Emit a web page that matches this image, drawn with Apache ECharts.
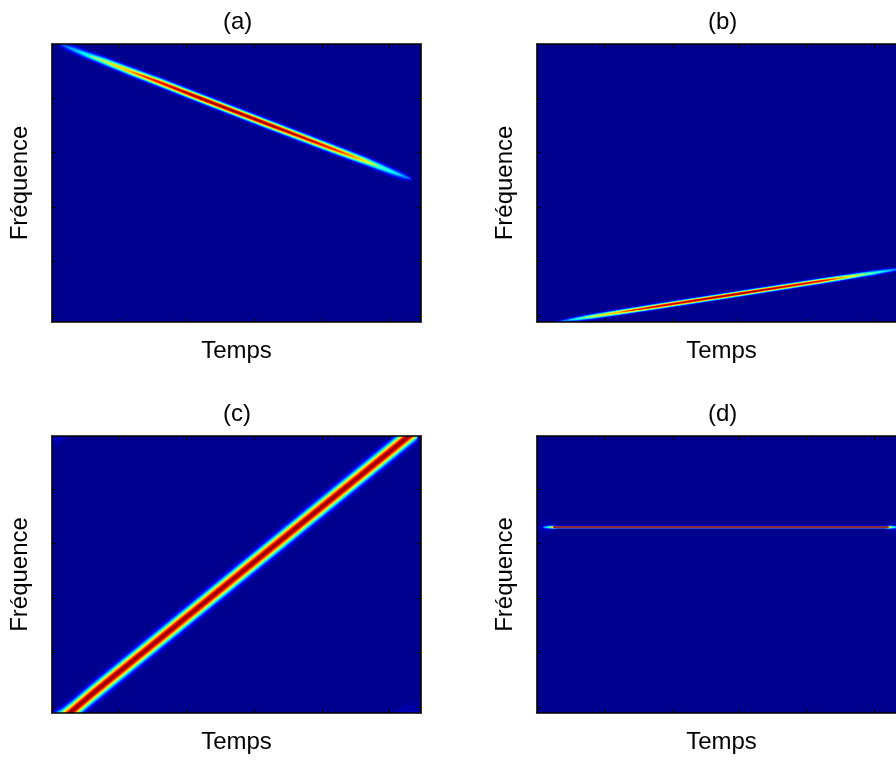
<!DOCTYPE html>
<html><head><meta charset="utf-8">
<style>html,body{margin:0;padding:0;background:#fff}#c{width:896px;height:761px}</style>
<script src="https://cdn.jsdelivr.net/npm/echarts@6/dist/echarts.min.js"></script>
</head><body><div id="c"></div>
<script>
// Ridge read-offs: time, frequency, spread (std. dev. in frequency) and peak level (0..1)
const aTime  = [10,22,36,52,78.5,115,160,219,322,411,440,464,485,503,520,533];
const aFreq  = [511,505,498,490,478,460.5,439.5,411,362,320,306.5,295.5,285,276,268,262];
const aSigma = [3.5,5,5,5,5,5,5,5,5,5,5,5,5,5,4.5,3];
const aPeak  = [0.14,0.26,0.34,0.42,0.58,0.75,0.9,1,1,0.88,0.78,0.65,0.5,0.4,0.3,0.14];

const bTime  = [28,45,60,80,120,180,300,420,445,464,485,501,515,525,532,537];
const bFreq  = [0,3,5.9,9.8,17.5,29,52,75,79.8,83.5,87.5,90.5,93.3,95,96.3,97.2];
const bSigma = [1.5,2.5,3,3,3,3,3,3,3,3,3,3,2.8,2.6,2.4,1.5];
const bPeak  = [0.15,0.3,0.42,0.58,0.75,0.95,1,0.9,0.78,0.65,0.55,0.46,0.38,0.33,0.27,0.12];

const cTime  = [3,15,30,60,100,200,300,400,480,510,523,530,535,541];
const cFreq  = [-10,-8,4,35.4,75.8,176.6,277.5,378.4,459,489.3,502.5,509.5,514.5,520.5];
const cSigma = [8,10,11,11,11,11,11,11,11,11,11,11,11,11];
const cPeak  = [0.5,0.85,1,1,1,1,1,1,1,1,1,1,1,1];

const cHazeLTime = [0,10,24], cHazeLFreq = [508,508,508], cHazeLSigma = [15,15,10], cHazeLPeak = [0.07,0.07,0.02];
const cHazeRTime = [505,525,546], cHazeRFreq = [0,0,0], cHazeRSigma = [10,15,15], cHazeRPeak = [0.02,0.07,0.06];
const cSpotLTime = [2,10,20], cSpotLFreq = [509,509,509], cSpotLSigma = [2,2,2], cSpotLPeak = [0.1,0.16,0.08];
const cSpotRTime = [518,532,544], cSpotRFreq = [0,0,0], cSpotRSigma = [2.5,2.5,2.5], cSpotRPeak = [0.08,0.18,0.1];

const dTime  = [9,13,19,24,30,515,521,526,532,536];
const dFreq  = [341,341,341,341,341,341,341,341,341,341];
const dSigma = [1.8,2.2,2.2,1.8,1.3,1.3,1.8,2.2,2.2,1.8];
const dPeak  = [0.2,0.35,0.5,0.72,0.9,0.9,0.72,0.5,0.35,0.2];

const dHaloLTime = [0,15,32], dHaloLFreq = [341,341,341], dHaloLSigma = [8,12,6], dHaloLPeak = [0.04,0.07,0.03];
const dHaloRTime = [512,530,545], dHaloRFreq = [341,341,341], dHaloRSigma = [6,12,8], dHaloRPeak = [0.03,0.07,0.04];

const dCoreTime = [24,521];
const dCoreFreq = [341,341];

const xTicks = [100,200,300,400,500];
const yTicks = [11,111,211,311,411];
const panelTitles = ['(a)','(b)','(c)','(d)'];
const xName = 'Temps', yName = 'Fréquence';
const levels = [0.025,0.04,0.06,0.08,0.125,0.18,0.25,0.31,0.375,0.44,0.5,0.56,0.625,0.69,0.75,0.81,0.875,0.94,0.98];

const ridges = [
  [0,aTime,aFreq,aSigma,aPeak],
  [1,bTime,bFreq,bSigma,bPeak],
  [2,cHazeLTime,cHazeLFreq,cHazeLSigma,cHazeLPeak],
  [2,cHazeRTime,cHazeRFreq,cHazeRSigma,cHazeRPeak],
  [2,cSpotLTime,cSpotLFreq,cSpotLSigma,cSpotLPeak],
  [2,cSpotRTime,cSpotRFreq,cSpotRSigma,cSpotRPeak],
  [2,cTime,cFreq,cSigma,cPeak],
  [3,dHaloLTime,dHaloLFreq,dHaloLSigma,dHaloLPeak],
  [3,dHaloRTime,dHaloRFreq,dHaloRSigma,dHaloRPeak],
  [3,dTime,dFreq,dSigma,dPeak]
];

function jet(v){
  const ch = d => Math.round(255*Math.max(0,Math.min(1,1.5-Math.abs(4*v-d))));
  return 'rgb('+ch(3)+','+ch(2)+','+ch(1)+')';
}
const BOX = [
  {left:52, top:44, width:369, height:278},
  {left:537,top:44, width:369, height:278},
  {left:52, top:436,width:369, height:277},
  {left:537,top:436,width:369, height:277}
];
const TXT = {fontFamily:'Liberation Sans',fontSize:24,color:'#000'};
const grid=[],xAxis=[],yAxis=[],title=[],series=[];
const line = {show:true,onZero:false,lineStyle:{color:'#000',width:1.6}};
BOX.forEach((b,i)=>{
  grid.push({left:b.left,top:b.top,width:b.width,height:b.height,outerBoundsMode:'none',show:true,backgroundColor:'#00008f',borderWidth:0});
  title.push({text:panelTitles[i],left:b.left+b.width/2-18.5,top:b.top-39,textStyle:{fontFamily:'Liberation Sans',fontSize:24,fontWeight:'normal',color:'#000'}});
  const tickX={show:true,inside:true,length:4,lineStyle:{color:'#000',width:1},customValues:xTicks};
  const tickY={show:true,inside:true,length:4,lineStyle:{color:'#000',width:1},customValues:yTicks};
  ['bottom','top'].forEach((p,j)=>xAxis.push({gridIndex:i,type:'value',position:p,min:0,max:b.width/0.675,z:20,
    axisLine:line,axisTick:tickX,axisLabel:{show:false},splitLine:{show:false},
    name:j?'':xName,nameLocation:'middle',nameGap:17,nameTextStyle:TXT,silent:true}));
  ['left','right'].forEach((p,j)=>yAxis.push({gridIndex:i,type:'value',position:p,min:0,max:b.height/0.545,z:20,
    axisLine:line,axisTick:tickY,axisLabel:{show:false},splitLine:{show:false},
    name:j?'':yName,nameLocation:'middle',nameGap:20,nameTextStyle:TXT,silent:true}));
});
ridges.forEach(([p,T,F,S,P])=>{
  levels.forEach(lv=>{
    const rows=T.map((t,k)=>{
      const hw=P[k]>lv?S[k]*Math.sqrt(2*Math.log(P[k]/lv)):0;
      return [t,F[k]-hw,F[k]+hw];
    });
    if(!P.some(v=>v>lv))return;
    series.push({type:'custom',coordinateSystem:'cartesian2d',xAxisIndex:p*2,yAxisIndex:p*2,clip:true,silent:true,
      data:rows,encode:{x:0,y:[1,2]},z:5,animation:false,
      renderItem(params,api){
        if(params.dataIndex!==0)return null;
        const up=rows.map(r=>api.coord([r[0],r[2]]));
        const dn=rows.map(r=>api.coord([r[0],r[1]])).reverse();
        return {type:'polygon',shape:{points:up.concat(dn)},style:{fill:jet(lv)}};
      }});
  });
});
series.push({type:'line',xAxisIndex:6,yAxisIndex:6,data:dCoreTime.map((t,k)=>[t,dCoreFreq[k]]),showSymbol:false,symbol:'none',z:6,silent:true,
  lineStyle:{color:'#8c2c3a',width:2.4},animation:false});
const chart=echarts.init(document.getElementById('c'),null,{renderer:'canvas'});
chart.setOption({animation:false,backgroundColor:'#fff',title,grid,xAxis,yAxis,series});
</script></body></html>
